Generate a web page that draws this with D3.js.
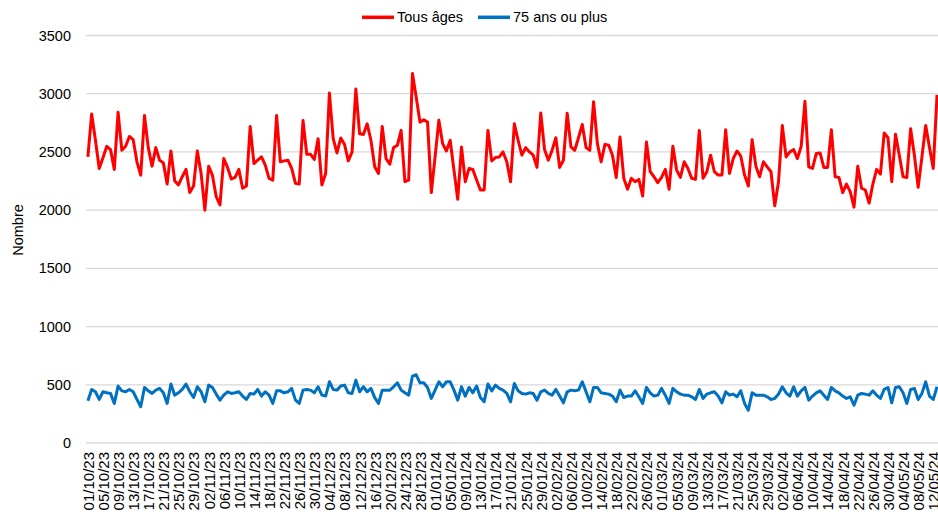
<!DOCTYPE html>
<html>
<head>
<meta charset="utf-8">
<script src="https://cdn.jsdelivr.net/npm/d3@7"></script>
<style>
  html, body { margin: 0; padding: 0; background: #ffffff; }
  svg { display: block; }
  text { font-family: "Liberation Sans", Arial, sans-serif; fill: #000; }
</style>
</head>
<body>
<svg id="chart" width="938" height="512"></svg>
<script>
// ---- Data ----
const startDate = "2023-10-01";
const dayCount = 226;
const seriesNames = ["Tous âges", "75 ans ou plus"];
const seriesColors = ["#ff0000", "#0070c0"];
const yTicks = [0, 500, 1000, 1500, 2000, 2500, 3000, 3500];
const yAxisTitle = "Nombre";

const tousAges = [
  2457, 2826, 2600, 2358, 2450, 2548, 2520, 2350, 2840, 2514,
  2548, 2633, 2605, 2415, 2300, 2812, 2537, 2378, 2537, 2429,
  2406, 2224, 2508, 2253, 2216, 2287, 2350, 2151, 2207, 2508,
  2315, 2000, 2378, 2300, 2116, 2045, 2443, 2367, 2267, 2281,
  2350, 2188, 2207, 2719, 2400, 2429, 2457, 2386, 2273, 2258,
  2812, 2415, 2423, 2429, 2358, 2230, 2224, 2770, 2480, 2480,
  2435, 2614, 2216, 2315, 3006, 2614, 2491, 2619, 2565, 2423,
  2500, 3040, 2656, 2650, 2741, 2600, 2372, 2315, 2719, 2443,
  2395, 2537, 2557, 2685, 2244, 2258, 3173, 2969, 2756, 2776,
  2756, 2151, 2457, 2773, 2571, 2508, 2600, 2344, 2094, 2543,
  2244, 2358, 2350, 2259, 2173, 2173, 2685, 2423, 2452, 2457,
  2500, 2415, 2244, 2741, 2600, 2472, 2537, 2500, 2472, 2367,
  2835, 2520, 2429, 2514, 2622, 2367, 2429, 2832, 2543, 2514,
  2622, 2736, 2537, 2514, 2932, 2571, 2415, 2565, 2557, 2472,
  2281, 2628, 2273, 2179, 2273, 2244, 2264, 2122, 2585, 2330,
  2287, 2236, 2281, 2350, 2179, 2548, 2344, 2281, 2415, 2358,
  2273, 2264, 2685, 2273, 2330, 2472, 2330, 2301, 2301, 2690,
  2315, 2443, 2508, 2463, 2301, 2207, 2605, 2378, 2287, 2415,
  2372, 2330, 2037, 2244, 2727, 2457, 2500, 2520, 2443, 2548,
  2935, 2372, 2358, 2486, 2491, 2367, 2367, 2690, 2287, 2281,
  2151, 2224, 2159, 2026, 2378, 2188, 2173, 2060, 2224, 2350,
  2310, 2662, 2622, 2244, 2651, 2472, 2287, 2281, 2699, 2472,
  2196, 2457, 2727, 2537, 2358, 2990
];

const plus75 = [
  363, 460, 440, 374, 440, 431, 426, 340, 489, 448,
  440, 460, 440, 374, 311, 477, 448, 426, 454, 469,
  431, 340, 506, 411, 431, 460, 506, 440, 391, 483,
  440, 354, 497, 477, 420, 368, 411, 440, 426, 431,
  440, 403, 374, 426, 420, 460, 403, 440, 411, 340,
  448, 448, 431, 440, 469, 368, 340, 454, 460, 454,
  431, 483, 411, 403, 526, 460, 454, 489, 497, 431,
  426, 540, 440, 483, 440, 469, 390,
  340, 454, 454, 454, 483, 517, 454, 431, 411, 574,
  586, 517, 517, 477, 383, 454, 526, 483, 526, 526,
  454, 368, 483, 403, 477, 431, 489, 391, 354, 506,
  448, 497, 469, 454, 426, 354, 511, 448, 426, 420,
  431, 426, 368, 440, 454, 426, 411, 460, 403, 345,
  440, 454, 448, 454, 526, 440, 354, 477, 477, 431,
  426, 420, 403, 354, 454, 391, 403, 403, 448, 397,
  340, 477, 431, 403, 411,
  469, 411, 340, 469, 440, 420, 411, 411, 397, 374,
  460, 383, 420, 431, 440, 403, 345, 440, 411, 420,
  397, 448, 340, 282, 431, 411, 411, 411, 397, 374,
  383, 420, 483, 431, 403, 483, 403, 448, 477, 368,
  403, 431, 448, 411, 374, 477, 448, 431, 403, 383,
  397, 325, 411, 426, 420, 411, 448, 411, 383, 460,
  477, 345, 477, 483, 431, 340, 460, 469, 374, 426,
  526, 403, 374, 483
];

// Categories: consecutive days starting 01/10/23
const fmt = d3.timeFormat("%d/%m/%y");
const t0 = d3.timeParse("%Y-%m-%d")(startDate);
const categories = d3.range(dayCount).map(i => fmt(d3.timeDay.offset(t0, i)));
const tickLabels = categories.filter((c, i) => i % 4 === 0);

// ---- Layout ----
const svg = d3.select("#chart");
const plotLeft = 86, yTop = 35.5, yBottom = 443;
const step = 3.774;

const x = d3.scalePoint()
  .domain(categories)
  .range([plotLeft, plotLeft + step * dayCount])
  .padding(0.5);

const y = d3.scaleLinear().domain([0, 3500]).range([yBottom, yTop]);

// Gridlines
svg.append("g")
  .selectAll("line")
  .data(yTicks)
  .join("line")
  .attr("x1", plotLeft)
  .attr("x2", 938)
  .attr("y1", d => y(d))
  .attr("y2", d => y(d))
  .attr("stroke", "#d9d9d9")
  .attr("stroke-width", 1.3);

// Y axis
const yAxis = svg.append("g")
  .attr("transform", `translate(${plotLeft},0)`)
  .call(d3.axisLeft(y).tickValues(yTicks).tickSize(0).tickPadding(15).tickFormat(d3.format("d")));
yAxis.select(".domain").remove();
yAxis.selectAll("text")
  .style("font-family", '"Liberation Sans", Arial, sans-serif')
  .style("font-size", "14.5px")
  .attr("fill", "#000");

// X axis
const xAxis = svg.append("g")
  .attr("transform", `translate(0,${yBottom})`)
  .call(d3.axisBottom(x).tickValues(tickLabels).tickSize(0));
xAxis.select(".domain").remove();
xAxis.selectAll("text")
  .style("font-family", '"Liberation Sans", Arial, sans-serif')
  .style("font-size", "15px")
  .attr("fill", "#000")
  .attr("text-anchor", "end")
  .attr("transform", "rotate(-90)")
  .attr("x", -9)
  .attr("y", 0)
  .attr("dy", "0.36em");

// Lines
const line = d3.line()
  .x((d, i) => x(categories[i]))
  .y(d => y(d));

svg.append("path")
  .datum(plus75)
  .attr("fill", "none")
  .attr("stroke", seriesColors[1])
  .attr("stroke-width", 3)
  .attr("stroke-linejoin", "round")
  .attr("d", line);

svg.append("path")
  .datum(tousAges)
  .attr("fill", "none")
  .attr("stroke", seriesColors[0])
  .attr("stroke-width", 3)
  .attr("stroke-linejoin", "round")
  .attr("d", line);

// Y axis title
svg.append("text")
  .attr("transform", "translate(23,230) rotate(-90)")
  .attr("text-anchor", "middle")
  .style("font-size", "14.5px")
  .text(yAxisTitle);

// Legend
const legendItems = [
  { name: seriesNames[0], color: seriesColors[0], x: 362 },
  { name: seriesNames[1], color: seriesColors[1], x: 478 }
];
const lg = svg.append("g");
legendItems.forEach(it => {
  lg.append("line")
    .attr("x1", it.x).attr("x2", it.x + 32)
    .attr("y1", 17.3).attr("y2", 17.3)
    .attr("stroke", it.color).attr("stroke-width", 3.5);
  lg.append("text")
    .attr("x", it.x + 35).attr("y", 22.3)
    .style("font-size", "14.5px")
    .text(it.name);
});
</script>
</body>
</html>
